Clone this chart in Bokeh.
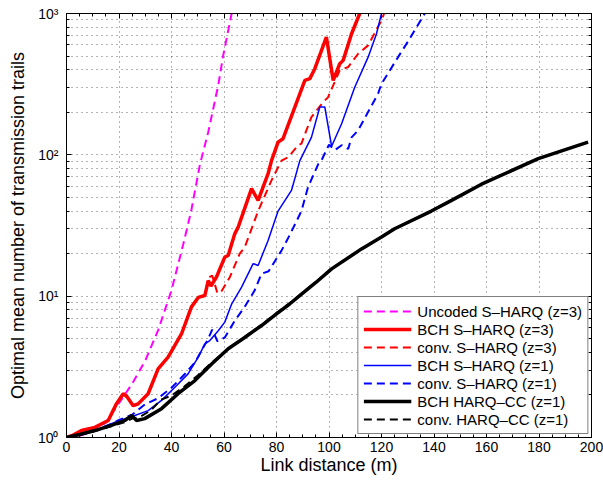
from bokeh.plotting import figure
from bokeh.models import FixedTicker, LinearAxis, LogAxis, Range1d, Legend
from bokeh.embed import file_html
from bokeh.resources import INLINE

# ---- data ----
unc_x = [0, 5, 10, 15, 20, 25, 30, 35, 37.5, 40, 44.4, 47.5, 50.8, 54, 57.8, 59.7, 62.9]
unc_y = [1.0, 1.03, 1.1, 1.28, 1.75, 2.4, 3.5, 5.8, 8.0, 11, 23, 40, 85, 145, 310, 505, 1000]

bch3_x = [0, 2, 5.7, 10.8, 15.9, 19, 21.6, 23, 25.4, 27.3, 31.1, 34.9, 38.7, 43.8, 47.6, 50.2, 52.7,
          54, 55, 57.1, 60.3, 61.6, 64.1, 65.4, 70.5, 73, 76.8, 78.1, 80.6, 82.5, 90.8, 92.7, 94.6,
          99, 101.6, 104.1, 105.4, 108.6, 111.7]
bch3_y = [1.0, 1.03, 1.12, 1.18, 1.32, 1.73, 2.04, 1.95, 1.68, 1.73, 2.04, 3.06, 3.7, 5.4, 8.4, 9.8, 10.1,
          12.9, 11.8, 13.6, 18.9, 19.4, 27.6, 30.8, 57.6, 47.6, 73.5, 91, 123, 130, 336, 346, 407,
          681, 336, 441, 466, 719, 1000]

conv3_x = [0, 2, 5.7, 10.8, 15.9, 19, 21.6, 23, 25.4, 27.3, 31.1, 34.9, 38.7, 43.8, 47.6, 50.2, 52.7,
           54, 55.5, 57.5, 59, 62.2, 66, 67.9, 73, 78.1, 81.9, 84.4, 88.3, 89.5, 93.3, 97.8, 99.6,
           101.6, 104.1, 107.3, 111.1, 114.9, 120, 121]
conv3_y = [1.0, 1.03, 1.12, 1.18, 1.32, 1.73, 2.04, 1.95, 1.68, 1.73, 2.04, 3.06, 3.7, 5.4, 8.4, 9.8, 10.1,
           13.5, 14, 10.5, 10.8, 13.6, 20, 22.2, 40, 66, 91, 96, 117, 120, 185, 236, 255,
           310, 396, 418, 519, 595, 895, 1000]

bch1_x = [0, 5, 10, 17.1, 20.3, 24.2, 31.1, 36.2, 41.3, 46.3, 50.2, 52.7, 54.6, 57.8, 60.3, 62.9, 66.7,
          71.1, 73, 76.8, 80.6, 85.7, 88.9, 93.3, 96.5, 98.4, 101, 104.8, 109.8, 114.9, 118.1, 120]
bch1_y = [1.0, 1.04, 1.1, 1.25, 1.32, 1.39, 1.55, 1.83, 2.27, 2.82, 3.7, 4.6, 4.85, 5.7, 6.55, 8.8, 11.6,
          17, 16.5, 24.8, 40, 56, 91, 133, 218, 218, 115, 166, 301, 491, 719, 1000]

conv1_x = [0, 5, 10, 17, 20, 25, 30, 35, 40, 45, 48.9, 52, 54, 55.5, 57.5, 60.3, 64.1, 67.9, 71.7, 74.3,
           77, 81.9, 85, 89.5, 92, 95.9, 97.1, 100, 102.2, 104.8, 107.3, 108.6, 111.1, 118.7, 120,
           126.3, 130, 136.5]
conv1_y = [1.0, 1.04, 1.1, 1.25, 1.33, 1.45, 1.72, 1.9, 2.25, 2.8, 3.4, 4.3, 5.0, 5.8, 4.8, 5.1, 6.7, 8.4,
           11, 14.4, 15, 21, 27, 40, 59, 86, 91, 118, 108, 117, 110, 133, 149, 271, 318, 491, 630, 1000]

cc_x = [0, 5, 10.8, 17.1, 22.2, 24.8, 26.7, 29.8, 36.2, 42.5, 48.9, 55.2, 61.6, 67.9, 74.3, 80, 85, 90,
        95, 101, 112.4, 120, 125, 139, 146.7, 158.1, 179.7, 198.7]
cc_y = [1.0, 1.05, 1.12, 1.22, 1.32, 1.43, 1.32, 1.36, 1.6, 2.04, 2.53, 3.3, 4.25, 5.1, 6.2, 7.5, 8.8,
        10.5, 12.5, 15.6, 21.6, 26.2, 30, 40, 47.6, 62, 94, 123]

convcc_x = [0, 5, 10, 17, 22, 25, 28, 32, 36, 40, 45, 50, 55, 60, 65, 70, 75, 80, 85, 90, 95, 101,
            112.4, 120, 125, 139, 146.7, 158.1, 179.7, 198.7]
convcc_y = [1.0, 1.04, 1.1, 1.2, 1.28, 1.36, 1.4, 1.55, 1.85, 1.98, 2.3, 2.75, 3.35, 4.0, 4.7, 5.5, 6.4,
            7.6, 8.9, 10.6, 12.6, 15.7, 21.7, 26.3, 30, 40, 47.6, 62, 94, 123]

x_ticks = [0, 20, 40, 60, 80, 100, 120, 140, 160, 180, 200]
x_minor = list(range(0, 201, 5))
y_ticks = [1, 10, 100, 1000]
y_minor = [2, 3, 4, 5, 6, 7, 8, 9, 20, 30, 40, 50, 60, 70, 80, 90,
           200, 300, 400, 500, 600, 700, 800, 900]
y_labels = {1: "10\u2070", 10: "10\u00b9", 100: "10\u00b2", 1000: "10\u00b3"}

FONT = "Liberation Sans"

p = figure(width=603, height=483, x_range=Range1d(0, 200), y_range=Range1d(1, 1000),
           y_axis_type="log", output_backend="svg", toolbar_location=None,
           min_border_left=66, min_border_right=12, min_border_top=13, min_border_bottom=46)
p.background_fill_color = "white"
p.border_fill_color = "white"
p.outline_line_color = "black"

xt = FixedTicker(ticks=x_ticks, minor_ticks=x_minor)
yt = FixedTicker(ticks=y_ticks, minor_ticks=y_minor)

p.xaxis.ticker = xt
p.yaxis.ticker = yt
p.yaxis.major_label_overrides = y_labels

for ax in (p.xaxis[0], p.yaxis[0]):
    ax.major_tick_in = 5
    ax.major_tick_out = 0
    ax.minor_tick_in = 3
    ax.minor_tick_out = 0
    ax.axis_line_color = "black"
    ax.major_tick_line_color = "black"
    ax.minor_tick_line_color = "black"
    ax.major_label_text_font = FONT
    ax.major_label_text_font_size = "14px"
    ax.major_label_text_color = "black"
    ax.axis_label_text_font = FONT
    ax.axis_label_text_font_size = "18px"
    ax.axis_label_text_font_style = "normal"
    ax.axis_label_text_color = "black"

p.xaxis.axis_label = "Link distance (m)"
p.yaxis.axis_label = "Optimal mean number of transmission trails"
p.xaxis.major_label_standoff = 4
p.xaxis.axis_label_standoff = 0
p.yaxis.major_label_standoff = 8
p.yaxis.axis_label_standoff = 7

# mirrored axes (ticks only)
top = LinearAxis(ticker=xt, major_label_overrides={t: "" for t in x_ticks})
right = LogAxis(ticker=yt, major_label_overrides={t: "" for t in y_ticks})
for ax in (top, right):
    ax.major_tick_in = 5
    ax.major_tick_out = 0
    ax.minor_tick_in = 3
    ax.minor_tick_out = 0
    ax.major_label_text_font_size = "1px"
    ax.major_label_standoff = 0
    ax.axis_label_standoff = 0
    ax.axis_line_color = "black"
    ax.major_tick_line_color = "black"
    ax.minor_tick_line_color = "black"
p.add_layout(top, "above")
p.add_layout(right, "right")

# dotted grid
p.xgrid.ticker = xt
p.ygrid.ticker = yt
for g in (p.xgrid[0], p.ygrid[0]):
    g.grid_line_color = "black"
    g.grid_line_alpha = 0.6
    g.grid_line_dash = "1 4"
p.ygrid.minor_grid_line_color = "black"
p.ygrid.minor_grid_line_alpha = 0.6
p.ygrid.minor_grid_line_dash = "1 4"

r1 = p.line(unc_x, unc_y, line_color="#ff00ff", line_width=2, line_dash="8 5")
r2 = p.line(bch3_x, bch3_y, line_color="#ff0000", line_width=3.5)
r3 = p.line(conv3_x, conv3_y, line_color="#ff0000", line_width=2, line_dash="8 5")
r4 = p.line(bch1_x, bch1_y, line_color="#0000ff", line_width=1.5)
r5 = p.line(conv1_x, conv1_y, line_color="#0000ff", line_width=2, line_dash="8 5")
r6 = p.line(cc_x, cc_y, line_color="black", line_width=3.5)
r7 = p.line(convcc_x, convcc_y, line_color="black", line_width=2, line_dash="8 5")

legend = Legend(items=[
    ("Uncoded S\u2013HARQ (z=3)", [r1]),
    ("BCH S\u2013HARQ (z=3)", [r2]),
    ("conv. S\u2013HARQ (z=3)", [r3]),
    ("BCH S\u2013HARQ (z=1)", [r4]),
    ("conv. S\u2013HARQ (z=1)", [r5]),
    ("BCH HARQ\u2013CC (z=1)", [r6]),
    ("conv. HARQ\u2013CC (z=1)", [r7]),
], location="bottom_right")
legend.margin = 3
legend.padding = 5
legend.spacing = 0
legend.label_height = 18
legend.glyph_height = 18
legend.glyph_width = 48
legend.label_standoff = 6
legend.label_text_font = FONT
legend.label_text_font_size = "15px"
legend.label_text_color = "black"
legend.border_line_color = "black"
legend.border_line_width = 1
legend.background_fill_color = "white"
legend.background_fill_alpha = 1
p.add_layout(legend, "center")

open("out.html", "w").write(file_html(p, INLINE))
